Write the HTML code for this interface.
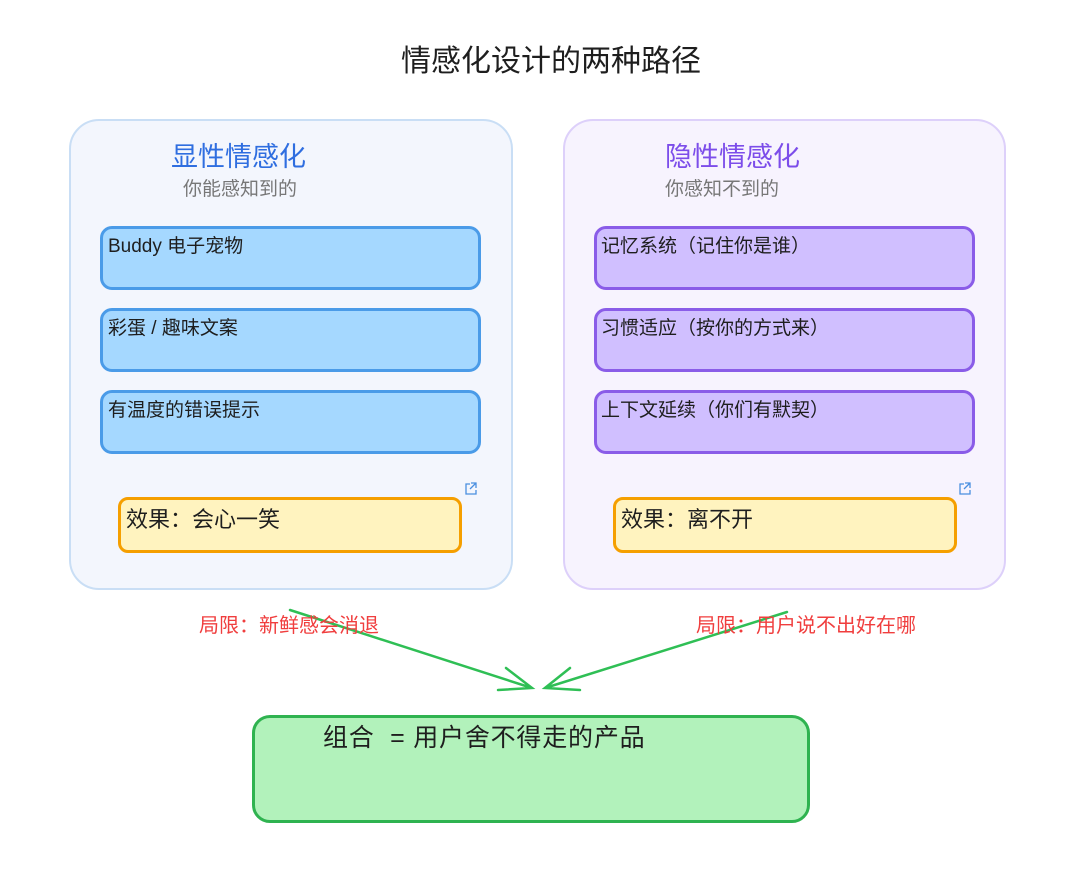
<!DOCTYPE html>
<html><head><meta charset="utf-8"><style>
body{margin:0;width:1080px;height:879px;background:#fff;position:relative;overflow:hidden;font-family:"Liberation Sans","Noto Sans CJK SC",sans-serif;}
.a{position:absolute;box-sizing:border-box;}
.t{position:absolute;white-space:nowrap;}
.item{border:3px solid #4a9be8;background:#a5d8ff;border-radius:12px;}
.pitem{border:3px solid #8a5ce8;background:#d0bfff;border-radius:12px;}
.it{font-size:19px;color:#1e1e1e;}
</style></head><body>
<div class="t" style="left:401px;top:36px;font-size:30px;color:#1e1e1e;">情感化设计的两种路径</div>

<div class="a" style="left:69px;top:119px;width:444px;height:471px;background:#f3f6fd;border:2px solid #c9def5;border-radius:30px;"></div>
<div class="a" style="left:563px;top:119px;width:443px;height:471px;background:#f7f3fe;border:2px solid #ddd0fa;border-radius:30px;"></div>

<div class="t" style="left:171px;top:135px;font-size:27px;color:#2f6ee0;">显性情感化</div>
<div class="t" style="left:183px;top:174px;font-size:19px;color:#777;">你能感知到的</div>
<div class="t" style="left:665px;top:135px;font-size:27px;color:#7c4dea;">隐性情感化</div>
<div class="t" style="left:665px;top:174px;font-size:19px;color:#777;">你感知不到的</div>

<div class="a item" style="left:100px;top:226px;width:381px;height:64px;"></div>
<div class="a item" style="left:100px;top:308px;width:381px;height:64px;"></div>
<div class="a item" style="left:100px;top:390px;width:381px;height:64px;"></div>
<div class="t it" style="left:108px;top:231px;">Buddy 电子宠物</div>
<div class="t it" style="left:108px;top:313px;">彩蛋 / 趣味文案</div>
<div class="t it" style="left:108px;top:395px;">有温度的错误提示</div>

<div class="a pitem" style="left:594px;top:226px;width:381px;height:64px;"></div>
<div class="a pitem" style="left:594px;top:308px;width:381px;height:64px;"></div>
<div class="a pitem" style="left:594px;top:390px;width:381px;height:64px;"></div>
<div class="t it" style="left:601px;top:231px;">记忆系统（记住你是谁）</div>
<div class="t it" style="left:601px;top:313px;">习惯适应（按你的方式来）</div>
<div class="t it" style="left:601px;top:395px;">上下文延续（你们有默契）</div>

<div class="a" style="left:118px;top:497px;width:344px;height:56px;background:#fff3bf;border:3px solid #f59f00;border-radius:10px;"></div>
<div class="t" style="left:126px;top:502px;font-size:22px;color:#1e1e1e;">效果：会心一笑</div>
<div class="a" style="left:613px;top:497px;width:344px;height:56px;background:#fff3bf;border:3px solid #f59f00;border-radius:10px;"></div>
<div class="t" style="left:621px;top:502px;font-size:22px;color:#1e1e1e;">效果：离不开</div>

<svg class="a" style="left:0;top:0" width="1080" height="879">
<g fill="none" stroke="#4a8fe0" stroke-width="1.3">
<path d="M470 484h-4v10h10v-4M471 483h5v5M476 483l-6 6"/>
<path d="M964 484h-4v10h10v-4M965 483h5v5M970 483l-6 6"/>
</g>
<g fill="none" stroke="#2fbf55" stroke-width="2.5" stroke-linecap="round">
<path d="M290 610L532 688M506 668L532 688L498 690"/>
<path d="M787 612L545 688M570 668L545 688L580 690"/>
</g>
</svg>

<div class="t" style="left:199px;top:609px;font-size:20px;color:#f03e3e;">局限：新鲜感会消退</div>
<div class="t" style="left:696px;top:609px;font-size:20px;color:#f03e3e;">局限：用户说不出好在哪</div>

<div class="a" style="left:252px;top:715px;width:558px;height:108px;background:#b2f2bb;border:3px solid #2fb350;border-radius:18px;"></div>
<div class="t" style="left:323px;top:718px;font-size:25px;letter-spacing:0.8px;color:#1e1e1e;">组合 &nbsp;= 用户舍不得走的产品</div>
</body></html>
